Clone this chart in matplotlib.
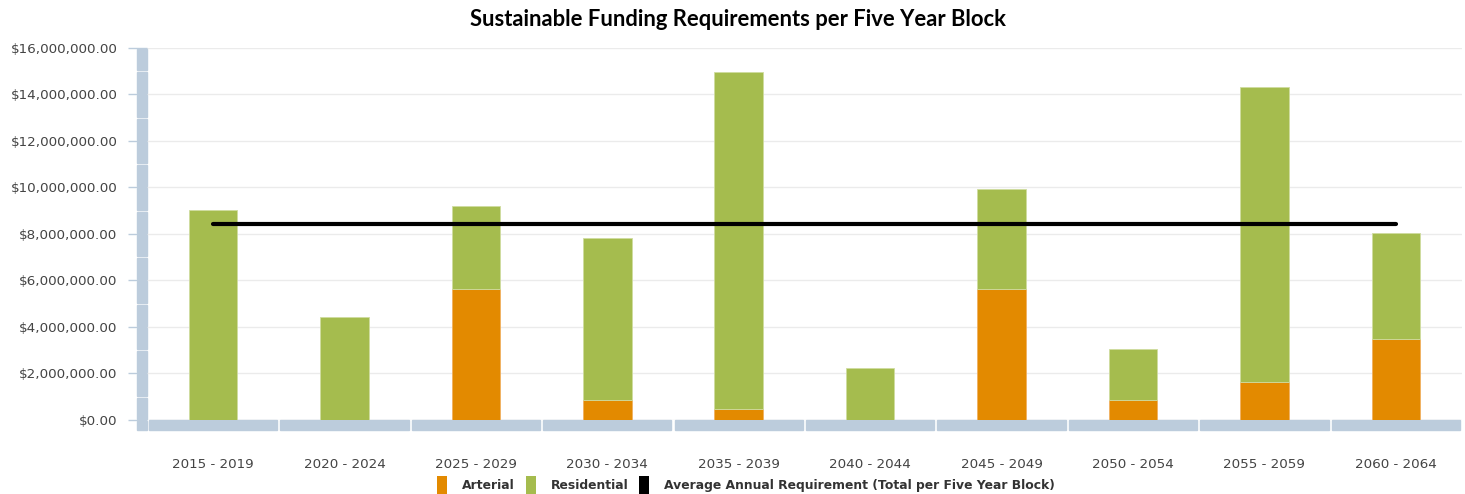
import matplotlib
matplotlib.use("Agg")
import matplotlib.pyplot as plt
from matplotlib.patches import Rectangle, Patch
from matplotlib.ticker import FuncFormatter, MultipleLocator
import matplotlib.transforms as mtransforms

plt.rcParams["font.family"] = ["DejaVu Sans"]

# Five year blocks and funding requirements (dollars)
blocks = ["2015 - 2019", "2020 - 2024", "2025 - 2029", "2030 - 2034", "2035 - 2039",
          "2040 - 2044", "2045 - 2049", "2050 - 2054", "2055 - 2059", "2060 - 2064"]
arterial = [0, 0, 5630000, 860000, 470000, 0, 5620000, 860000, 1620000, 3480000]
block_totals = [9040000, 4430000, 9200000, 7810000, 14950000, 2230000, 9910000, 3060000, 14300000, 8020000]
residential = [t - a for t, a in zip(block_totals, arterial)]
average_requirement = 8420000

ORANGE = "#E38A00"
GREEN = "#A5BC4E"
BAND = "#BCCCDC"
GRID = "#EBEBEB"
TEXT = "#444444"

W, H = 1465, 494
fig = plt.figure(figsize=(W / 100, H / 100), dpi=100)
ax = fig.add_axes([147.3 / W, 1 - 420 / H, (1461.6 - 147.3) / W, (420 - 47.7) / H])

x = list(range(len(blocks)))
bw = 0.37
ax.bar(x, arterial, width=bw, color=ORANGE, edgecolor="#F0B060", linewidth=0.6, zorder=3)
ax.bar(x, residential, width=bw, bottom=arterial, color=GREEN, edgecolor="#CFDCA0",
       linewidth=0.6, zorder=3)
ax.plot(x, [average_requirement] * len(x), color="black", linewidth=3.0,
        solid_capstyle="round", zorder=4)

ax.set_xlim(-0.5, len(blocks) - 0.5)
ax.set_ylim(0, 16000000)
ax.yaxis.set_major_locator(MultipleLocator(2000000))
ax.yaxis.set_major_formatter(FuncFormatter(lambda v, p: "${:,.2f}".format(v)))
ax.grid(axis="y", color=GRID, linewidth=1, zorder=0)
ax.set_axisbelow(True)
for s in ax.spines.values():
    s.set_visible(False)

# ticks run from the plot edge out past the axis band (19 px), labels 11 px beyond
ax.tick_params(axis="y", length=19 * 0.72, width=1, color=BAND, pad=11 * 0.72,
               labelsize=9.7, labelcolor=TEXT)
ax.tick_params(axis="x", length=0, pad=27, labelsize=9.7, labelcolor=TEXT)
ax.set_xticks(x)
ax.set_xticklabels(blocks)

# vertical axis band, segmented every million
px_x = 1 / (1461.6 - 147.3)
px_y = 1 / (420 - 47.7)
ytrans = mtransforms.blended_transform_factory(ax.transAxes, ax.transData)
gap = 16000000 * px_y * 2
for k in range(16):
    ax.add_patch(Rectangle((-10.5 * px_x, k * 1000000 + gap / 2), 10 * px_x, 1000000 - gap,
                           transform=ytrans, color=BAND, clip_on=False, zorder=2))
# corner block at the origin
ax.add_patch(Rectangle((-10.5 * px_x, -10 * px_y), 10 * px_x, 9 * px_y,
                       transform=ax.transAxes, color=BAND, clip_on=False, zorder=2))

# horizontal axis band, one segment per block
xtrans = mtransforms.blended_transform_factory(ax.transData, ax.transAxes)
for i in x:
    ax.add_patch(Rectangle((i - 0.5 + 0.012, -10 * px_y), 1 - 0.024, 10 * px_y,
                           transform=xtrans, color=BAND, clip_on=False, zorder=2))

fig.text(738 / W, 1 - 19 / H, "Sustainable Funding Requirements per Five Year Block",
         ha="center", va="center", fontsize=15.8, fontweight="bold", family="Lato",
         color="black")

handles = [Patch(facecolor=ORANGE, edgecolor="none"),
           Patch(facecolor=GREEN, edgecolor="none"),
           Patch(facecolor="black", edgecolor="none")]
labels = ["Arterial", "Residential", "Average Annual Requirement (Total per Five Year Block)"]
leg = fig.legend(handles, labels, loc="center", bbox_to_anchor=(746 / W, 1 - 485 / H),
                 ncol=3, frameon=False, handlelength=0.81, handleheight=1.85,
                 handletextpad=1.22, columnspacing=0.88, borderpad=0, borderaxespad=0,
                 prop={"family": "DejaVu Sans", "weight": "bold", "size": 8.9})
for t in leg.get_texts():
    t.set_color("#333333")

fig.savefig("out.png", dpi=100, facecolor="white")
